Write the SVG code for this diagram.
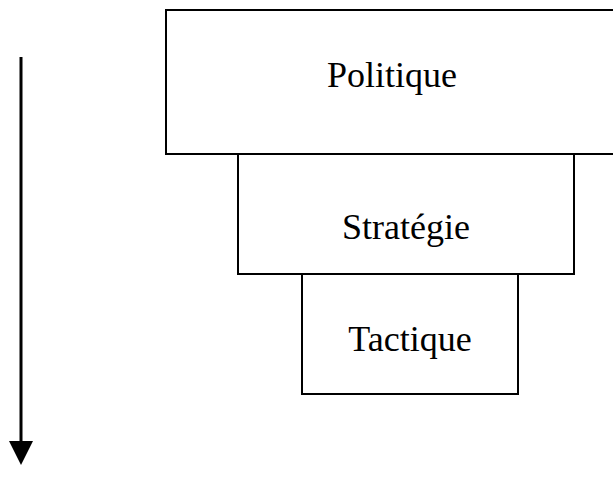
<svg xmlns="http://www.w3.org/2000/svg" width="613" height="488" viewBox="0 0 613 488">
<style>
.box{fill:#fff;stroke:#000;stroke-width:2}
.lbl{font-family:"Liberation Serif","Times New Roman",serif;font-size:36px;fill:#000;text-anchor:middle}
</style>
<rect width="613" height="488" fill="#fff"/>
<g id="politique">
<rect class="box" x="166" y="10" width="450" height="144"/>
<text class="lbl" x="392" y="87">Politique</text>
</g>
<g id="strategie">
<rect class="box" x="238" y="154" width="336" height="120"/>
<text class="lbl" x="406" y="239">Stratégie</text>
</g>
<g id="tactique">
<rect class="box" x="302" y="274" width="216" height="120"/>
<text class="lbl" x="410" y="351">Tactique</text>
</g>
<g id="connectors">
<line x1="21" y1="57" x2="21" y2="445" stroke="#000" stroke-width="3"/>
<polygon points="9,441 33,441 21,465" fill="#000"/>
</g>
</svg>
